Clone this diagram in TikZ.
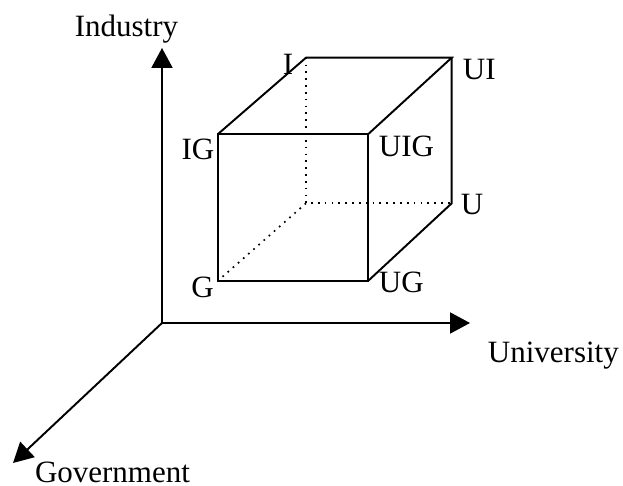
\documentclass[tikz,border=0pt]{standalone}
\usepackage{fontspec}
\setmainfont{Liberation Serif}
\usetikzlibrary{arrows.meta}

\begin{document}
\begin{tikzpicture}[x=0.13606cm,y=0.13606cm,line width=0.75pt,
    axis/.style={-{Triangle[length=7.7pt,width=8.1pt]}},
    hidden/.style={dotted,line width=0.65pt},
    lbl/.style={inner sep=0pt,font=\fontsize{12}{14}\selectfont}]
            \useasboundingbox (0,0) rectangle (62.3,48.6);
            % Axes
            \coordinate (O) at (16.2,16.3);
            \coordinate (ind) at (16.2,43.8);
            \coordinate (uni) at (47.0,16.3);
            \coordinate (gov) at (1.3,2.3);
            \draw[axis] (O) -- (ind);
            \draw[axis] (O) -- (uni);
            \draw[axis] (O) -- (gov);
            \node[lbl,anchor=base] (indlab) at (12.65,44.9) {Industry};
            \node[lbl,anchor=base west] (unilab) at (48.7,12.3) {University};
            \node[lbl,anchor=base] (govlab) at (11.25,0.35) {Government};

            % Corners of the cube
            \coordinate (G) at (21.77,20.5);
            \coordinate (UG) at (36.8,20.5);
            \coordinate (IG) at (21.77,35.17);
            \coordinate (UIG) at (36.8,35.17);
            \coordinate (B) at (30.6,28.27);
            \coordinate (U) at (45.17,28.27);
            \coordinate (I) at (30.6,42.83);
            \coordinate (UI) at (45.17,42.83);
            % Visible edges
            \draw (G) -- (UG) -- (UIG) -- (IG) -- cycle;
            \draw (IG) -- (I) -- (UI) -- (UIG);
            \draw (UI) -- (U) -- (UG);
            % Hidden edges
            \draw[hidden] (I) -- (B) -- (U);
            \draw[hidden] (B) -- (G);

            % Labels
            \node[lbl,anchor=base] (Ilab) at (28.8,41.1) {I};
            \node[lbl,anchor=base west] (UIlab) at (46.2,40.6) {UI};
            \node[lbl,anchor=base] (IGlab) at (19.8,32.6) {IG};
            \node[lbl,anchor=base west] (UIGlab) at (37.8,32.9) {UIG};
            \node[lbl,anchor=base west] (Ulab) at (46.0,27.1) {U};
            \node[lbl,anchor=base] (Glab) at (20.25,18.8) {G};
            \node[lbl,anchor=base west] (UGlab) at (37.8,19.3) {UG};
        \end{tikzpicture}
\end{document}
